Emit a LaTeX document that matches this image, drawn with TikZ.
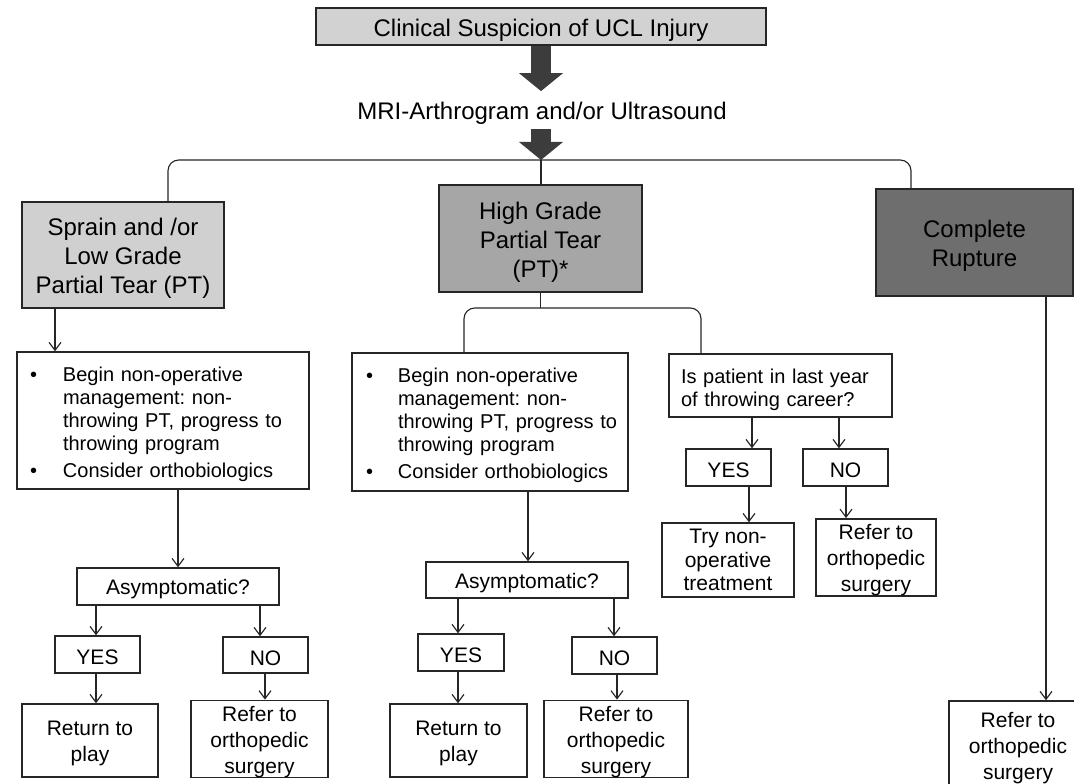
\documentclass[tikz,border=0pt]{standalone}
\usepackage{fontspec}
\setmainfont{Liberation Sans}
\frenchspacing
\usetikzlibrary{arrows.meta}
\definecolor{suspectgray}{HTML}{D2D2D2}
\definecolor{lowgray}{HTML}{D0D0D0}
\definecolor{highgray}{HTML}{A6A6A6}
\definecolor{rupturegray}{HTML}{6E6E6E}
\definecolor{arrowgray}{HTML}{3C3C3C}
\definecolor{linegray}{HTML}{262626}
\newcommand{\topstrut}{\rule{0pt}{1em}}

\begin{document}
\begin{tikzpicture}[
        x=0.75pt, y=-0.75pt,
        sz/.style 2 args={minimum width=#1*0.75pt, minimum height=#2*0.75pt},
        headbox/.style={draw=linegray, line width=1.2pt, inner sep=0pt, align=center,
            execute at begin node=\topstrut, font=\fontsize{18}{21.75}\selectfont},
        smallbox/.style={draw=linegray, line width=1.1pt, inner sep=0pt, align=center,
            execute at begin node=\topstrut, font=\fontsize{15.75}{19.5}\selectfont},
        listbox/.style={draw=linegray, line width=1.1pt, inner ysep=0pt, align=left,
            execute at begin node=\rule{0pt}{18pt}, font=\fontsize{15}{17.25}\selectfont},
        link/.style={draw=linegray, line width=0.85pt, rounded corners=8pt},
        arr/.style={draw=linegray, line width=0.85pt, -{Straight Barb[length=6pt,width=9pt]}},
        fatarrow/.style={draw=arrowgray, line width=15pt, -{Triangle[length=13.5pt,width=32.25pt]}}]
    \useasboundingbox (0,0) rectangle (1074,784);

    \node[headbox, fill=suspectgray, sz={450}{37}] (top) at (541,26.5) {Clinical Suspicion of UCL Injury};
    \node[inner sep=0pt, font=\fontsize{18}{21.75}\selectfont] (mri) at (542,113) {MRI-Arthrogram and/or Ultrasound};

    \node[headbox, fill=lowgray, sz={202}{106}] (sprain) at (123,255) {\topstrut Sprain and /or\\Low Grade\\Partial Tear (PT)};
    \node[headbox, fill=highgray, sz={203}{107}] (high) at (540.5,238.5) {\topstrut High Grade\\Partial Tear\\(PT)*};
    \node[headbox, fill=rupturegray, sz={197}{107}] (rupture) at (974.5,242.5) {\topstrut Complete\\Rupture};

    \node[listbox, inner xsep=9.75pt, text width=199.5pt, sz={292}{137}] (mgmtL) at (163,420.5) {%
        \begin{tabular}[t]{@{}p{24.75pt}@{}l@{}}
            \textbullet & Begin non-operative\\
                        & management: non-\\
                        & throwing PT, progress to\\
                        & throwing program\\[3pt]
            \textbullet & Consider orthobiologics
        \end{tabular}};
    \node[listbox, inner xsep=10.5pt, text width=186pt, sz={276}{138}] (mgmtM) at (490,422) {%
        \begin{tabular}[t]{@{}p{24pt}@{}l@{}}
            \textbullet & Begin non-operative\\
                        & management: non-\\
                        & throwing PT, progress to\\
                        & throwing program\\[3pt]
            \textbullet & Consider orthobiologics
        \end{tabular}};
    \node[listbox, inner xsep=9pt, text width=149.25pt, sz={223}{63}] (career) at (780.5,385.5) {Is patient in last year\\of throwing career?};

    \node[smallbox, sz={85}{37}] (yesR) at (728.5,467.5) {YES};
    \node[smallbox, sz={85}{37}] (noR) at (845.5,467.5) {NO};
    \node[smallbox, sz={132}{74}, font=\fontsize{15.75}{17.6}\selectfont] (tryR) at (728,560) {Try non-\\operative\\treatment};
    \node[smallbox, sz={120}{75}] (referR) at (876,557.5) {\topstrut Refer to\\orthopedic\\surgery};

    \node[smallbox, sz={202}{37}] (asymL) at (178,586.5) {Asymptomatic?};
    \node[smallbox, sz={85}{37}] (yesL) at (97.5,654.5) {YES};
    \node[smallbox, sz={85}{36}] (noL) at (265.5,655) {NO};
    \node[smallbox, sz={136}{73}] (playL) at (90,740.5) {\topstrut Return to\\play};
    \node[smallbox, sz={137}{76}] (referL) at (259.5,739) {\topstrut Refer to\\orthopedic\\surgery};

    \node[smallbox, sz={202}{36}] (asymM) at (527,580) {Asymptomatic?};
    \node[smallbox, sz={86}{37}] (yesM) at (461,652.5) {YES};
    \node[smallbox, sz={85}{37}] (noM) at (614.5,655.5) {NO};
    \node[smallbox, sz={137}{73}] (playM) at (458.5,740.5) {\topstrut Return to\\play};
    \node[smallbox, sz={144}{76}] (referM) at (616,739) {\topstrut Refer to\\orthopedic\\surgery};

    \node[smallbox, sz={138}{88}] (referC) at (1018,745) {\topstrut Refer to\\orthopedic\\surgery};

    \coordinate (split) at (541,160);
    \coordinate (splitL) at (168,160);
    \coordinate (splitR) at (911,160);
    \coordinate (split2) at (540.5,308);
    \coordinate (split2L) at (464,308);
    \coordinate (split2R) at (701,308);

    \draw[fatarrow, shorten >=7.8pt] (top.south) -- (top.south |- mri.north);
    \draw[fatarrow, shorten <=3.75pt] (split |- mri.south) -- (split);

    \draw[link] (splitL |- sprain.north) -- (splitL) -- (splitR) -- (splitR |- rupture.north);
    \draw[link] (split) -- (split |- high.north);
    \draw[link] (high.south) -- (split2);
    \draw[link] (split2L |- mgmtM.north) -- (split2L) -- (split2R) -- (split2R |- career.north);

    \draw[arr] (sprain.south -| 55,0) -- (mgmtL.north -| 55,0);
    \draw[arr] (mgmtL.south -| asymL) -- (asymL);
    \draw[arr] (asymL.south -| 96,0) -- (yesL.north -| 96,0);
    \draw[arr] (asymL.south -| 260,0) -- (noL.north -| 260,0);
    \draw[arr] (yesL.south -| 96,0) -- (playL.north -| 96,0);
    \draw[arr] (noL.south -| 265,0) -- (referL.north -| 265,0);

    \draw[arr] (mgmtM.south -| 528,0) -- (asymM.north -| 528,0);
    \draw[arr] (asymM.south -| 458,0) -- (yesM.north -| 458,0);
    \draw[arr] (asymM.south -| 614,0) -- (noM.north -| 614,0);
    \draw[arr] (yesM.south -| 458,0) -- (playM.north -| 458,0);
    \draw[arr] (noM.south -| 617,0) -- (referM.north -| 617,0);

    \draw[arr] (career.south -| 752,0) -- (yesR.north -| 752,0);
    \draw[arr] (career.south -| 839,0) -- (noR.north -| 839,0);
    \draw[arr] (yesR.south -| 749,0) -- (tryR.north -| 749,0);
    \draw[arr] (noR.south -| 846,0) -- (referR.north -| 846,0);

    \draw[arr] (rupture.south -| 1046,0) -- (referC.north -| 1046,0);
\end{tikzpicture}
\end{document}
